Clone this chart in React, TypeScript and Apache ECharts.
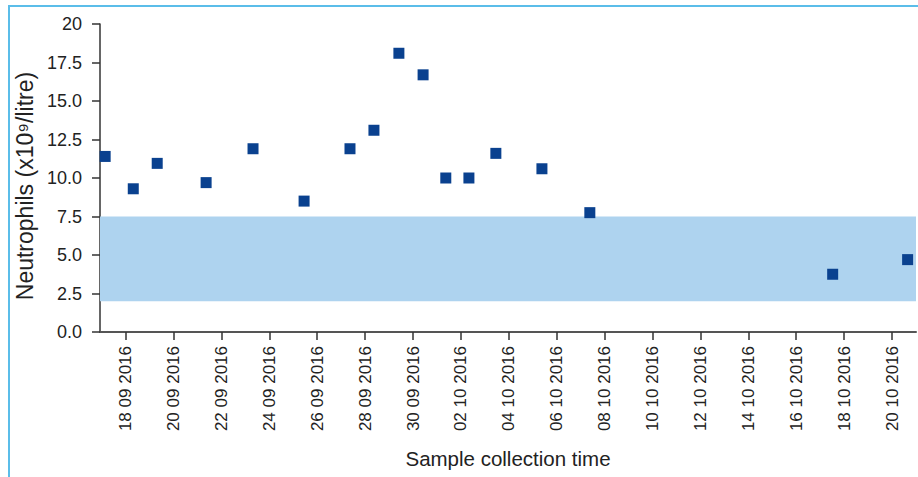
import React, { useEffect, useRef } from "react";
import * as echarts from "echarts";

const sampleTimes: string[] = [
  "2016-09-17T03:30", "2016-09-18T07:40", "2016-09-19T07:40", "2016-09-21T08:40",
  "2016-09-23T07:40", "2016-09-25T10:50", "2016-09-27T08:50", "2016-09-28T08:50",
  "2016-09-29T09:50", "2016-09-30T10:05", "2016-10-01T08:50", "2016-10-02T08:00",
  "2016-10-03T11:00", "2016-10-05T09:10", "2016-10-07T09:10", "2016-10-17T12:30",
  "2016-10-20T15:36",
];
const neutrophils: number[] = [
  11.4, 9.3, 10.95, 9.7, 11.9, 8.5, 11.9, 13.1, 18.1, 16.7, 10.0, 10.0, 11.6, 10.6, 7.75, 3.75, 4.7,
];
const tickDates: string[] = [
  "2016-09-18", "2016-09-20", "2016-09-22", "2016-09-24", "2016-09-26", "2016-09-28",
  "2016-09-30", "2016-10-02", "2016-10-04", "2016-10-06", "2016-10-08", "2016-10-10",
  "2016-10-12", "2016-10-14", "2016-10-16", "2016-10-18", "2016-10-20",
];
const xRange: string[] = ["2016-09-16T22:20", "2016-10-21T00:00"];
const normalRange: number[] = [2.0, 7.5];
const yTicks: number[] = [0, 2.5, 5, 7.5, 10, 12.5, 15, 17.5, 20];

const utc = (s: string) => Date.parse(s.length === 10 ? s + "T00:00:00Z" : s + ":00Z");
const pad = (n: number) => (n < 10 ? "0" + n : "" + n);
const fmtDate = (v: number) => {
  const d = new Date(v);
  return `${pad(d.getUTCDate())} ${pad(d.getUTCMonth() + 1)} ${d.getUTCFullYear()}`;
};

const FONT = "'Liberation Sans Narrow', 'Liberation Sans', Arial, sans-serif";

export default function App() {
  const ref = useRef<HTMLDivElement>(null);
  useEffect(() => {
    if (!ref.current) return;
    const chart = echarts.init(ref.current, null, { renderer: "svg" });
    const ticks = tickDates.map(utc);
    chart.setOption({
      animation: false,
      backgroundColor: "#ffffff",
      textStyle: { fontFamily: FONT },
      grid: { left: 100, right: 2, top: 24, bottom: 145 },
      graphic: [
        { type: "line", shape: { x1: 9, y1: 6, x2: 918, y2: 6 }, style: { stroke: "#5BBDE9", lineWidth: 2 } },
        { type: "line", shape: { x1: 9, y1: 5, x2: 9, y2: 477 }, style: { stroke: "#5BBDE9", lineWidth: 2 } },
      ],
      xAxis: {
        type: "value",
        min: utc(xRange[0]),
        max: utc(xRange[1]),
        name: "Sample collection time",
        nameLocation: "middle",
        nameGap: 116,
        nameTextStyle: { fontFamily: FONT, fontSize: 20.5, color: "#222", verticalAlign: "top" },
        splitLine: { show: false },
        axisLine: { show: true, lineStyle: { color: "#555", width: 2 } },
        axisTick: { show: true, customValues: ticks, length: 8, lineStyle: { color: "#333", width: 1.5 } },
        axisLabel: {
          customValues: ticks,
          rotate: 90,
          margin: 14,
          fontFamily: FONT,
          fontSize: 17,
          color: "#222",
          formatter: (v: number) => fmtDate(v),
        },
      },
      yAxis: {
        type: "value",
        min: 0,
        max: 20,
        interval: 2.5,
        name: "Neutrophils (x10⁹/litre)",
        nameLocation: "middle",
        nameGap: 49,
        nameTextStyle: { fontFamily: FONT, fontSize: 23, color: "#222", padding: [0, 16, 0, 0] },
        splitLine: { show: false },
        axisLine: { show: true, lineStyle: { color: "#333", width: 1.5 } },
        axisTick: { show: true, length: 8, lineStyle: { color: "#333", width: 1.5 } },
        axisLabel: {
          margin: 18,
          fontFamily: FONT,
          fontSize: 18,
          color: "#222",
          formatter: (v: number) => (yTicks.indexOf(v) >= 0 ? (v === 20 ? "20" : v.toFixed(1)) : ""),
        },
      },
      series: [
        {
          type: "scatter",
          symbol: "rect",
          symbolSize: 11,
          itemStyle: { color: "#0A418F", opacity: 1 },
          data: sampleTimes.map((t, i) => [utc(t), neutrophils[i]]),
          markArea: {
            silent: true,
            itemStyle: { color: "#AED3EF", opacity: 1 },
            data: [[{ yAxis: normalRange[0] }, { yAxis: normalRange[1] }]],
          },
          z: 3,
        },
      ],
    });
    return () => chart.dispose();
  }, []);
  return (
    <div
      ref={ref}
      style={{ position: "fixed", left: 0, top: 0, width: 918, height: 477 }}
    />
  );
}
